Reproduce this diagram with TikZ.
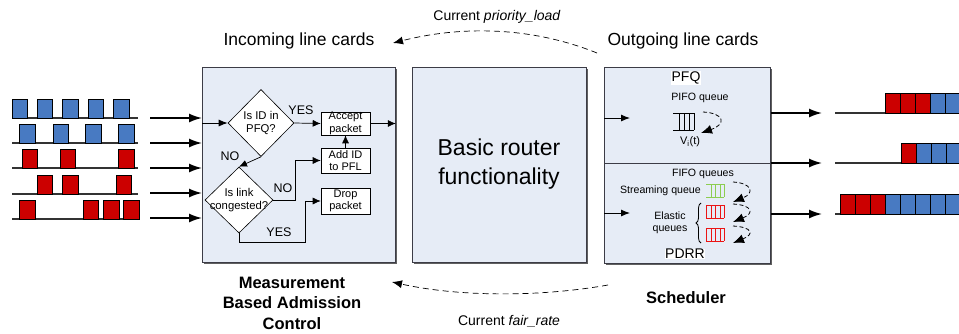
\documentclass[tikz,border=0pt]{standalone}
\usepackage{fontspec}
\setmainfont{Liberation Sans}
\usetikzlibrary{arrows.meta,shapes.geometric,shadows,decorations.pathreplacing,calc}
\definecolor{boxfill}{RGB}{230,236,246}
\definecolor{boxline}{RGB}{60,60,70}
\definecolor{pblue}{RGB}{72,122,194}
\definecolor{pred}{RGB}{204,0,0}
\definecolor{qgreen}{RGB}{140,205,80}
\definecolor{qred}{RGB}{235,20,20}
\newcommand{\pkt}[4]{\filldraw[fill=#4,draw=black,line width=0.8pt] (#1,#3) rectangle (#2,#3+19);}
\newcommand{\qicon}[5]{%
  \draw[#5,line width=0.9pt] (#1,#2) -- ++(#3,0) (#1,#2+#4) -- ++(#3,0)
    (#1+#3*0.3,#2) -- ++(0,#4) (#1+#3*0.55,#2) -- ++(0,#4)
    (#1+#3*0.78,#2) -- ++(0,#4) (#1+#3,#2) -- ++(0,#4);}
\begin{document}
\begin{tikzpicture}[x=1pt,y=-1pt,
  bigbox/.style={draw=boxline,fill=boxfill,line width=0.8pt,inner sep=0pt,anchor=north west,
    drop shadow={shadow xshift=2pt,shadow yshift=-2pt,fill=gray!75!black,opacity=1}},
  fbox/.style={draw=black,fill=white,line width=0.6pt,minimum width=49pt,inner sep=0pt,align=center,
    font=\fontsize{11}{12.5}\selectfont},
  dia/.style={diamond,draw=black,fill=white,line width=0.6pt,inner sep=0pt},
  dtext/.style={align=center,font=\fontsize{11.3}{13}\selectfont},
  arr/.style={-{Latex[length=8pt,width=7pt]},line width=0.7pt},
  bigarr/.style={-{Latex[length=13pt,width=9pt]},line width=1.6pt},
  inarr/.style={-{Latex[length=9pt,width=7pt]},line width=0.9pt},
  darr/.style={dash pattern=on 6pt off 4pt,-{Latex[length=10pt,width=8pt]},line width=0.7pt},
  sdarr/.style={dash pattern=on 4pt off 2.5pt,-{Latex[length=11pt,width=9pt]},line width=0.8pt},
  lbl/.style={font=\fontsize{12.5}{14}\selectfont,inner sep=0pt},
  wlab/.style={fill=white,inner sep=0.5pt,font=\fontsize{14}{16}\selectfont},
  small/.style={font=\fontsize{10.6}{12.5}\selectfont},
  pline/.style={line width=1.2pt,draw=black!80}
]
\useasboundingbox (0,0) rectangle (959,333);

% titles
\node[font=\fontsize{17.5}{20}\selectfont] (tin) at (299,41) {Incoming line cards};
\node[font=\fontsize{17.5}{20}\selectfont] (tout) at (683,41) {Outgoing line cards};
\node[font=\fontsize{14}{16}\selectfont] (tpl) at (497,17) {Current \textit{priority\_load}};
\node[font=\fontsize{14}{16}\selectfont] (tfr) at (509,321) {Current \textit{fair\_rate}};
\node[font=\bfseries\fontsize{16.5}{20.5}\selectfont,align=center] (tmbac) at (292,303) {Measurement\\Based Admission\\Control};
\node[font=\bfseries\fontsize{16.5}{20}\selectfont] (tsch) at (686,298) {Scheduler};

% big boxes
\node[bigbox,minimum width=193pt,minimum height=195pt] (mbac) at (202,67) {};
\node[bigbox,minimum width=174pt,minimum height=195pt] (brf) at (412,67) {};
\node[font=\fontsize{23}{29}\selectfont,align=center] (brftext) at (499,164) {Basic router\\functionality};
\node[bigbox,minimum width=166pt,minimum height=196pt] (sch) at (604,67) {};

% dashed feedback arcs
\coordinate (pls) at (597,53);
\coordinate (ple) at (393,43);
\draw[darr] (pls) .. controls (530,26) and (460,26) .. (ple);
\coordinate (frs) at (608,285);
\coordinate (fre) at (392,282);
\draw[darr] (frs) .. controls (540,297) and (460,297) .. (fre);

% input packet rows
\foreach \y in {118,143,168,194,219} {\draw[pline] (12,\y) -- (138,\y);}
\foreach \a/\b in {12/27,37/52,62/78,88/103,113/129} {\pkt{\a}{\b}{99}{pblue}}
\foreach \a/\b in {19/35,53/68,85/101,118/134} {\pkt{\a}{\b}{124}{pblue}}
\foreach \a/\b in {22/37,60/75,118/134} {\pkt{\a}{\b}{149}{pred}}
\foreach \a/\b in {37/52,62/78,116/131} {\pkt{\a}{\b}{175}{pred}}
\foreach \a/\b in {19/35,83/98,103/119,123/139} {\pkt{\a}{\b}{200}{pred}}

% input arrows
\foreach \i/\y in {1/118,2/143,3/168,4/193,5/218} {
  \coordinate (in\i) at (150,\y);
  \draw[bigarr] (in\i) -- (mbac.west |- in\i);
}

% flowchart
\node[dia,minimum width=66pt,minimum height=67pt,
  label={[dtext]center:Is ID in\\PFQ?}] (d1) at (261,123) {};
\node[dia,minimum width=68pt,minimum height=66pt,
  label={[dtext]center:Is link\\congested?}] (d2) at (239,200) {};
\node[fbox,minimum height=23pt] (acc) at (345.5,123.5) {Accept\\packet};
\node[fbox,minimum height=25pt] (add) at (345.5,160.5) {Add ID\\to PFL};
\node[fbox,minimum height=26pt] (drop) at (345.5,201) {Drop\\packet};

\draw[inarr] (mbac.west |- d1) -- (d1.west);
\draw[arr] (d1.east) -- (acc.west);
\draw[arr] (acc.east) -- (mbac.east |- acc);
\draw[arr] (add.north) -- (acc.south);
\draw[arr] (d1.south) -- (d2.north);
\draw[arr] (d2.east) -- ++(22,0) |- (add.west);
\draw[arr] (d2.south) |- (305,242) -- (305,201) -- (drop.west);
\node[lbl] (yes1) at (301,110) {YES};
\node[lbl] (no1) at (230,156) {NO};
\node[lbl] (no2) at (283,188) {NO};
\node[lbl] (yes2) at (279,232) {YES};

% scheduler internals
\draw[line width=0.8pt,draw=boxline] (sch.west |- 0,163) -- (sch.east |- 0,163);
\node[wlab] (pfq) at (686,78) {PFQ};
\node[small] (pifo) at (700,98) {PIFO queue};
\coordinate (q1in) at (630,118);
\draw[inarr] (sch.west |- q1in) -- (q1in);
\coordinate (q2in) at (630,213);
\draw[inarr] (sch.west |- q2in) -- (q2in);
\qicon{673}{113}{21}{17}{black}
\node[font=\fontsize{11}{12}\selectfont] (vit) at (690,142) {V\textsubscript{i}(t)};
\coordinate (pa1) at (703,112);
\coordinate (pa2) at (701,133);
\draw[sdarr] (pa1) .. controls (724,113) and (727,124) .. (pa2);

\node[small] (fifo) at (703,174) {FIFO queues};
\node[small,anchor=east,inner sep=1pt] (stq) at (702,191) {Streaming queue};
\qicon{706}{184}{18}{13}{qgreen}
\qicon{706}{205}{18}{13}{qred}
\draw[qred,line width=0.9pt] (706,205) -- ++(0,13);
\qicon{706}{228}{18}{13}{qred}
\draw[qred,line width=0.9pt] (706,228) -- ++(0,13);
\node[small,align=center] (elq) at (670,223) {Elastic\\queues};
\draw[decorate,decoration={brace,amplitude=5pt},line width=0.8pt] (701,243) -- (701,203);
\foreach \i/\ys/\ye in {1/182/202,2/204/222,3/226/243} {
  \coordinate (fa\i) at (733,\ys);
  \coordinate (fb\i) at (733,\ye);
  \draw[sdarr] (fa\i) .. controls (752,\ys+1) and (755,\ye-9) .. (fb\i);
}
\node[wlab] (pdrr) at (685,254) {PDRR};

% output arrows and queues
\foreach \i/\y in {1/113,2/163,3/214} {
  \coordinate (out\i) at (822,\y);
  \draw[bigarr] (sch.east |- out\i) -- (out\i);
  \draw[pline] (835,\y) -- (959,\y);
}
\foreach \k/\c in {0/pred,1/pred,2/pred,3/pblue,4/pblue} {
  \filldraw[fill=\c,draw=black,line width=0.8pt] (885+15*\k,93) rectangle (900+15*\k,113);}
\foreach \k/\c in {0/pred,1/pblue,2/pblue,3/pblue} {
  \filldraw[fill=\c,draw=black,line width=0.8pt] (901+15*\k,143) rectangle (916+15*\k,163);}
\foreach \k/\c in {0/pred,1/pred,2/pred,3/pblue,4/pblue,5/pblue,6/pblue,7/pblue} {
  \filldraw[fill=\c,draw=black,line width=0.8pt] (840+15*\k,194) rectangle (855+15*\k,214);}
\end{tikzpicture}
\end{document}
